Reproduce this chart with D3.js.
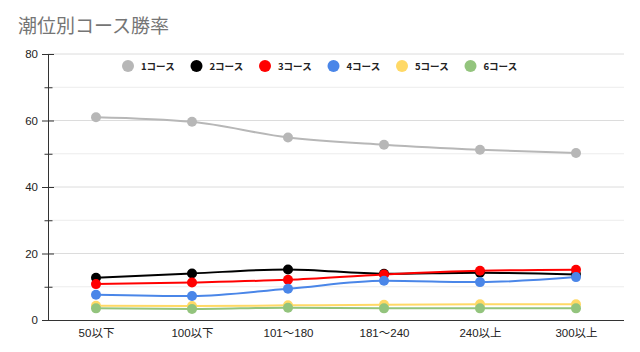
<!DOCTYPE html>
<html>
<head>
<meta charset="utf-8">
<script src="https://cdn.jsdelivr.net/npm/d3@7"></script>
<style>
  body { margin: 0; background: #fff; font-family: "Noto Sans CJK JP", "Noto Sans", sans-serif; }
  .axis text { font-family: "Liberation Sans", "Noto Sans CJK JP", sans-serif; font-size: 11.5px; fill: #222; }
</style>
</head>
<body>
<div id="chart"></div>
<script>
// categories (tide level) and win rate per course
let categories = ["50以下", "100以下", "101〜180", "181〜240", "240以上", "300以上"];
let seriesNames = ["1コース", "2コース", "3コース", "4コース", "5コース", "6コース"];
let course1 = [61.0, 59.6, 54.9, 52.7, 51.2, 50.2];
let course2 = [12.7, 14.0, 15.2, 13.9, 14.2, 13.7];
let course3 = [10.8, 11.3, 12.1, 13.7, 14.8, 15.1];
let course4 = [7.6, 7.2, 9.4, 11.8, 11.4, 12.9];
let course5 = [4.3, 4.2, 4.4, 4.6, 4.7, 4.7];
let course6 = [3.5, 3.3, 3.7, 3.5, 3.5, 3.5];
let yTicks = [0, 20, 40, 60, 80];

let colors = ["#b7b7b7", "#000000", "#ff0000", "#4a86e8", "#ffd966", "#93c47d"];
let allSeries = [course1, course2, course3, course4, course5, course6];

let W = 640, H = 352;
let margin = {top: 54, right: 16, bottom: 32, left: 48};
let width = W - margin.left - margin.right;
let height = H - margin.top - margin.bottom;

let svg = d3.select("#chart").append("svg")
    .attr("width", W)
    .attr("height", H);

// title
svg.append("text")
    .attr("x", 18)
    .attr("y", 33)
    .attr("font-size", "19px")
    .attr("fill", "#757575")
    .text("潮位別コース勝率");

let g = svg.append("g")
    .attr("transform", "translate(" + margin.left + "," + margin.top + ")");

let x = d3.scalePoint()
    .domain(categories)
    .range([0, width])
    .padding(0.5);

let y = d3.scaleLinear()
    .domain([0, 80])
    .range([height, 0]);

// gridlines every 10
g.append("g")
    .selectAll("line")
    .data(d3.range(10, 81, 10))
    .enter().append("line")
    .attr("x1", 0)
    .attr("x2", width)
    .attr("y1", d => y(d))
    .attr("y2", d => y(d))
    .attr("stroke", d => d % 20 === 0 ? "#dcdcdc" : "#ececec")
    .attr("stroke-width", 1);

// y axis
let yAxis = g.append("g")
    .attr("class", "axis")
    .call(d3.axisLeft(y).tickValues(yTicks).tickSize(6).tickPadding(4));
yAxis.select(".domain").attr("stroke", "#333").attr("d", "M0.5," + y(80) + "V" + y(0));
yAxis.selectAll(".tick line").attr("x1", 6).attr("stroke", "#333");
yAxis.selectAll(".tick text").attr("x", -10);

// minor ticks
g.append("g")
    .selectAll("line")
    .data(d3.range(10, 80, 20))
    .enter().append("line")
    .attr("x1", -3.5)
    .attr("x2", 4.5)
    .attr("y1", d => y(d) + 0.5)
    .attr("y2", d => y(d) + 0.5)
    .attr("stroke", "#333");

// x axis
let xAxis = g.append("g")
    .attr("class", "axis")
    .attr("transform", "translate(0," + height + ")")
    .call(d3.axisBottom(x).tickSize(0).tickPadding(7));
xAxis.select(".domain").attr("stroke", "#333").attr("d", "M0,0.5H" + width);
xAxis.selectAll(".tick text").attr("dy", "0.9em");

// lines
let line = d3.line()
    .x((d, i) => x(categories[i]))
    .y(d => y(d))
    .curve(d3.curveMonotoneX);

allSeries.forEach((s, k) => {
    g.append("path")
        .datum(s)
        .attr("fill", "none")
        .attr("stroke", colors[k])
        .attr("stroke-width", 2)
        .attr("d", line);
});

allSeries.forEach((s, k) => {
    g.append("g")
        .selectAll("circle")
        .data(s)
        .enter().append("circle")
        .attr("cx", (d, i) => x(categories[i]))
        .attr("cy", d => y(d))
        .attr("r", 5)
        .attr("fill", colors[k]);
});

// legend
let legend = svg.append("g")
    .attr("transform", "translate(128,66)");

let items = legend.selectAll("g")
    .data(seriesNames)
    .enter().append("g")
    .attr("transform", (d, i) => "translate(" + (i * 68.5) + ",0)");

items.append("circle")
    .attr("r", 6)
    .attr("fill", (d, i) => colors[i]);

items.append("text")
    .attr("x", 13)
    .attr("y", 3.5)
    .attr("font-size", "9.5px")
    .attr("font-weight", "bold")
    .attr("fill", "#222")
    .text(d => d);
</script>
</body>
</html>
